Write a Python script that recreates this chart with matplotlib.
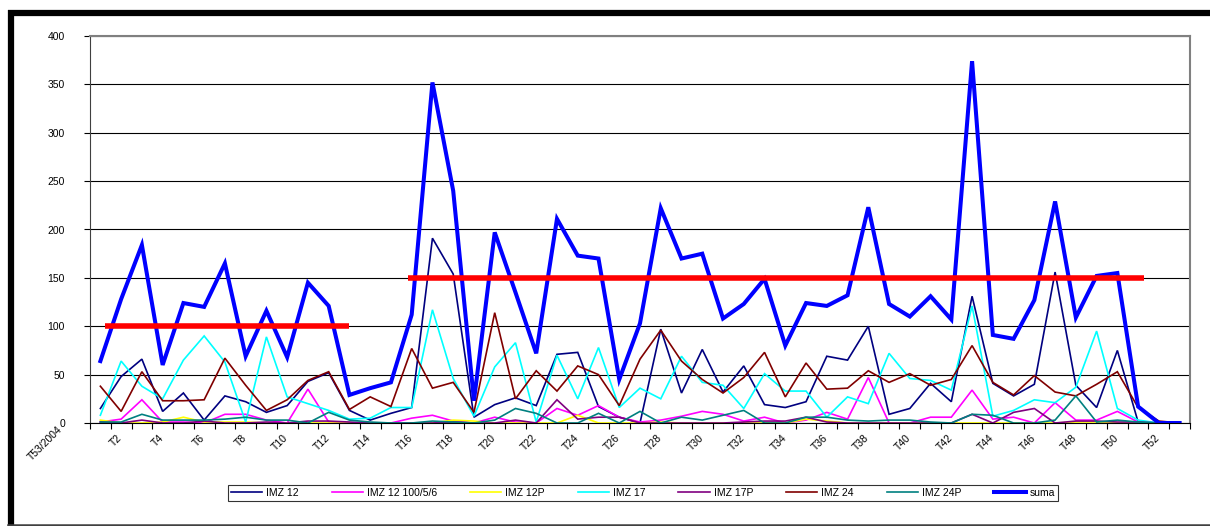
import matplotlib.pyplot as plt
import matplotlib.transforms as mtransforms
from matplotlib.lines import Line2D
import numpy as np

plt.rcParams['font.family'] = ['Liberation Sans', 'DejaVu Sans']

# weekly counts, weeks T1..T53
imz12 = [15, 48, 66, 12, 31, 3, 28, 22, 11, 18, 43, 52, 13, 3, 10, 16,
         191, 154, 6, 19, 26, 18, 71, 73, 17, 6, 0, 97, 31, 76, 32, 59,
         19, 16, 22, 69, 65, 100, 9, 15, 41, 22, 131, 41, 28, 40, 156,
         39, 16, 75, 1, 0, 0]
imz12_100 = [1, 4, 24, 1, 1, 0, 9, 9, 3, 0, 35, 1, 0, 0, 0, 5,
             8, 2, 0, 6, 1, 0, 15, 8, 18, 6, 1, 3, 7, 12, 9, 2,
             6, 0, 3, 11, 4, 47, 0, 0, 6, 6, 34, 4, 6, 0, 21,
             3, 3, 12, 1, 0, 0]
imz12p = [3, 0, 0, 1, 6, 1, 1, 1, 0, 0, 0, 0, 0, 0, 0, 0,
          0, 3, 2, 0, 0, 0, 0, 8, 0, 0, 0, 1, 0, 0, 0, 0,
          0, 0, 4, 2, 0, 0, 0, 0, 0, 0, 0, 0, 0, 0, 0,
          1, 1, 0, 0, 0, 0]
imz17 = [8, 64, 38, 25, 65, 90, 63, 1, 89, 27, 20, 13, 4, 5, 16, 16,
         117, 46, 7, 58, 83, 1, 70, 25, 78, 16, 36, 25, 69, 42, 39, 15,
         51, 33, 33, 6, 27, 20, 72, 46, 44, 34, 121, 7, 13, 24, 21,
         37, 95, 15, 3, 0, 0]
imz17p = [1, 0, 3, 0, 0, 2, 0, 0, 1, 0, 2, 2, 1, 0, 0, 0,
          0, 1, 0, 0, 3, 0, 24, 4, 6, 6, 0, 0, 0, 0, 0, 1,
          2, 2, 6, 1, 0, 0, 0, 0, 0, 0, 9, 0, 11, 15, 0,
          2, 2, 1, 1, 0, 0]
imz24 = [38, 12, 53, 23, 23, 24, 67, 39, 13, 24, 44, 53, 14, 27, 17, 77,
         36, 42, 11, 114, 25, 54, 33, 59, 50, 18, 66, 96, 64, 45, 31, 47,
         73, 27, 62, 35, 36, 54, 42, 51, 39, 45, 80, 42, 29, 49, 32,
         28, 40, 53, 16, 2, 0]
imz24p = [1, 1, 9, 3, 3, 3, 4, 6, 3, 3, 0, 11, 3, 1, 0, 0,
          2, 1, 0, 3, 15, 10, 0, 0, 10, 0, 12, 0, 6, 3, 8, 13,
          0, 0, 6, 6, 3, 2, 3, 3, 1, 0, 9, 8, 0, 0, 3,
          28, 1, 3, 1, 0, 0]
suma = [64, 128, 184, 60, 124, 120, 165, 69, 116, 68, 145, 121, 29, 36, 42, 112,
        352, 240, 23, 197, 135, 72, 211, 173, 170, 45, 103, 222, 170, 175, 108, 123,
        149, 80, 124, 121, 132, 223, 123, 110, 131, 107, 374, 91, 87, 127, 229,
        109, 152, 155, 17, 0, 0]

week_labels = ['T%d' % i for i in range(2, 53, 2)]
first_label = 'T53/2004'

# target levels (value, first week index, last week index)
targets = [(100, 0.2, 12.0), (150, 14.8, 50.3)]

series = [
    ('IMZ 12', imz12, '#000080', 1.2),
    ('IMZ 12 100/5/6', imz12_100, '#FF00FF', 1.2),
    ('IMZ 12P', imz12p, '#FFFF00', 1.2),
    ('IMZ 17', imz17, '#00FFFF', 1.2),
    ('IMZ 17P', imz17p, '#800080', 1.2),
    ('IMZ 24', imz24, '#800000', 1.2),
    ('IMZ 24P', imz24p, '#008080', 1.2),
    ('suma', suma, '#0000FF', 2.9),
]

fig = plt.figure(figsize=(12.1, 5.26), dpi=100)
ax = fig.add_axes([90 / 1210, 103 / 526, 1100 / 1210, 387 / 526])

x = np.arange(len(suma))
for name, vals, color, lw in series:
    ax.plot(x, vals, color=color, lw=lw, label=name, solid_joinstyle='miter')

for level, x0, x1 in targets:
    ax.plot([x0, x1], [level, level], color='#FF0000', lw=4, solid_capstyle='butt', zorder=5)

ax.set_xlim(-0.5, len(suma) - 0.5)
ax.set_ylim(0, 400)
ax.set_yticks(np.arange(0, 401, 50))
ax.grid(axis='y', color='black', lw=0.8)
ax.set_axisbelow(True)

# tick marks between categories, labels under every second week
ax.set_xticks(np.arange(-0.5, len(suma), 1))
ax.set_xticklabels([])
ax.set_xticks(np.arange(1, 52, 2), minor=True)
ax.set_xticklabels(week_labels, minor=True, rotation=45, ha='right', va='top',
                   rotation_mode='anchor', fontsize=7.5)
ax.tick_params(axis='x', which='minor', length=0, pad=7)
ax.tick_params(axis='x', which='major', length=4, width=0.8, direction='out')
ax.tick_params(axis='y', length=4, width=0.8, pad=14, labelsize=7.5)
shift = mtransforms.ScaledTranslation(-4 / 100, 0, fig.dpi_scale_trans)
for lab in ax.xaxis.get_minorticklabels():
    lab.set_transform(lab.get_transform() + shift)

ax.text(-2.1, -0.003, first_label, transform=ax.get_xaxis_transform(), rotation=45,
        ha='right', va='top', rotation_mode='anchor', fontsize=7.5, clip_on=False)

for side in ['top', 'right']:
    ax.spines[side].set_color('#808080')
    ax.spines[side].set_linewidth(1.5)
ax.spines['left'].set_color('#404040')
ax.spines['bottom'].set_color('black')

handles = [Line2D([], [], color=c, lw=(2.9 if n == 'suma' else 1.2)) for n, v, c, lw in series]
leg = fig.legend(handles, [s[0] for s in series], loc='center', bbox_to_anchor=(643 / 1210, 1 - 493 / 526),
                 ncol=8, fontsize=7.5, frameon=True, fancybox=False, edgecolor='black',
                 handlelength=3.0, handletextpad=0.4, columnspacing=3.15, borderpad=0.3)
leg.get_frame().set_linewidth(0.8)

# outer chart frame: heavy left and top edges, thin bottom edge
fig.add_artist(Line2D([11 / 1210, 11 / 1210], [0, 1 - 10 / 526], color='black', lw=4.5,
                      solid_capstyle='butt', transform=fig.transFigure))
fig.add_artist(Line2D([8 / 1210, 1], [1 - 13 / 526, 1 - 13 / 526], color='black', lw=4.5,
                      solid_capstyle='butt', transform=fig.transFigure))
fig.add_artist(Line2D([8 / 1210, 1], [1.2 / 526, 1.2 / 526], color='#404040', lw=1.8,
                      transform=fig.transFigure))

fig.savefig('out.png', dpi=100)
